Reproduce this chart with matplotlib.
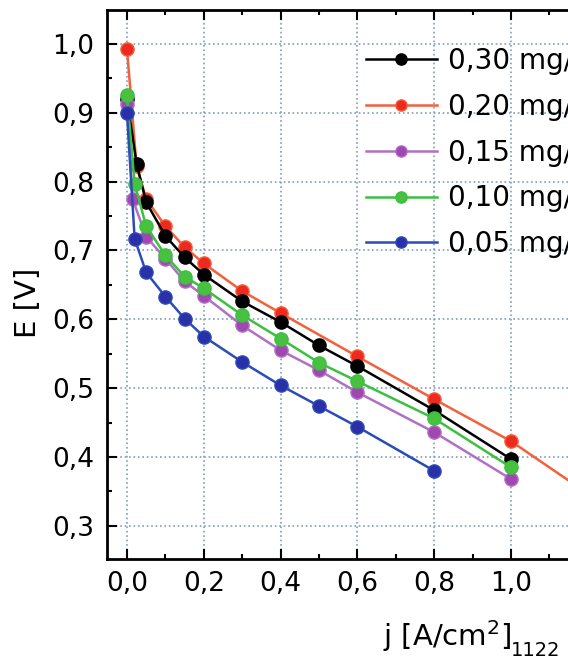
import numpy as np
import matplotlib.pyplot as plt
from matplotlib.ticker import FuncFormatter, MultipleLocator

# 데이터
labels = ["0,30 mg/cm²", "0,20 mg/cm²", "0,15 mg/cm²", "0,10 mg/cm²", "0,05 mg/cm²"]

j_030 = [0.0, 0.025, 0.05, 0.1, 0.15, 0.2, 0.3, 0.4, 0.5, 0.6, 0.8, 1.0]
E_030 = [0.920, 0.826, 0.770, 0.721, 0.690, 0.665, 0.626, 0.596, 0.562, 0.532, 0.468, 0.397]

j_020 = [0.0, 0.025, 0.05, 0.1, 0.15, 0.2, 0.3, 0.4, 0.6, 0.8, 1.0, 1.2]
E_020 = [0.993, 0.822, 0.775, 0.735, 0.705, 0.681, 0.641, 0.609, 0.546, 0.484, 0.423, 0.347]

j_015 = [0.0, 0.015, 0.05, 0.1, 0.15, 0.2, 0.3, 0.4, 0.5, 0.6, 0.8, 1.0]
E_015 = [0.912, 0.774, 0.720, 0.688, 0.655, 0.634, 0.591, 0.555, 0.526, 0.494, 0.436, 0.368]

j_010 = [0.0, 0.02, 0.05, 0.1, 0.15, 0.2, 0.3, 0.4, 0.5, 0.6, 0.8, 1.0]
E_010 = [0.925, 0.797, 0.735, 0.693, 0.662, 0.645, 0.606, 0.572, 0.537, 0.510, 0.456, 0.385]

j_005 = [0.0, 0.02, 0.05, 0.1, 0.15, 0.2, 0.3, 0.4, 0.5, 0.6, 0.8]
E_005 = [0.900, 0.717, 0.668, 0.633, 0.601, 0.575, 0.538, 0.504, 0.474, 0.444, 0.380]

series = [(j_030, E_030), (j_020, E_020), (j_015, E_015), (j_010, E_010), (j_005, E_005)]
line_colors = ['#000000', '#f2603c', '#b070c4', '#3cc040', '#2a4cb8']
marker_colors = ['#000000', '#ee2a1e', '#a048b0', '#48c040', '#2a30a8']
zorders = [4, 3, 5, 6, 7]

# 그래프 생성
fig = plt.figure(figsize=(5.68, 6.65), dpi=100)
W, H = 568, 665
# 축은 그림 오른쪽 밖까지 이어짐 (원본이 잘려 있음)
ax = fig.add_axes([107 / W, 1 - 559 / H, 500 / W, 549 / H])

for (x, y), lc, mc, lab, z in zip(series, line_colors, marker_colors, labels, zorders):
    ax.plot(x, y, '-', color=lc, lw=1.8, marker='o', ms=9.5,
            mfc=mc, mec=lc, mew=1.0, label=lab, zorder=z)

ax.set_xlim(-0.052, 1.250)
ax.set_ylim(0.252, 1.049)

# 눈금 설정
ax.xaxis.set_major_locator(MultipleLocator(0.2))
ax.xaxis.set_minor_locator(MultipleLocator(0.1))
ax.yaxis.set_major_locator(MultipleLocator(0.1))
ax.yaxis.set_minor_locator(MultipleLocator(0.05))
comma = FuncFormatter(lambda v, p: f"{v:.1f}".replace('.', ','))
xcomma = FuncFormatter(lambda v, p: f"{v:.1f}".replace('.', ',') if v < 1.1 else '')
ax.xaxis.set_major_formatter(xcomma)
ax.yaxis.set_major_formatter(comma)
ax.tick_params(which='both', direction='in', top=True, right=True, width=1.5)
ax.tick_params(which='major', length=7, labelsize=19, pad=9)
ax.tick_params(which='minor', length=3.5)
for s in ax.spines.values():
    s.set_linewidth(2.0)

# 격자
ax.grid(True, which='major', linestyle=':', color='#7f9fb4', lw=1.2)
ax.set_axisbelow(True)

# 축 레이블
ax.set_ylabel('E [V]', fontsize=21)
ax.yaxis.set_label_coords((42 - 107) / 500, (559 - 303) / 549)
ax.set_xlabel('j [A/cm$^2$]', fontsize=21)
ax.xaxis.set_label_coords((447 - 107) / 500, -(618 - 559) / 549)
fig.text(511 / W, 1 - 656 / H, '1122', fontsize=14, ha='left', va='baseline')

# 범례
leg = ax.legend(loc='upper left', bbox_to_anchor=(366 / W, 1 - 47 / H),
                bbox_transform=fig.transFigure, frameon=False, fontsize=20,
                handlelength=2.55, handletextpad=0.4, labelspacing=0.64,
                markerscale=0.85, borderpad=0, borderaxespad=0)

plt.savefig('out.png', dpi=100)
